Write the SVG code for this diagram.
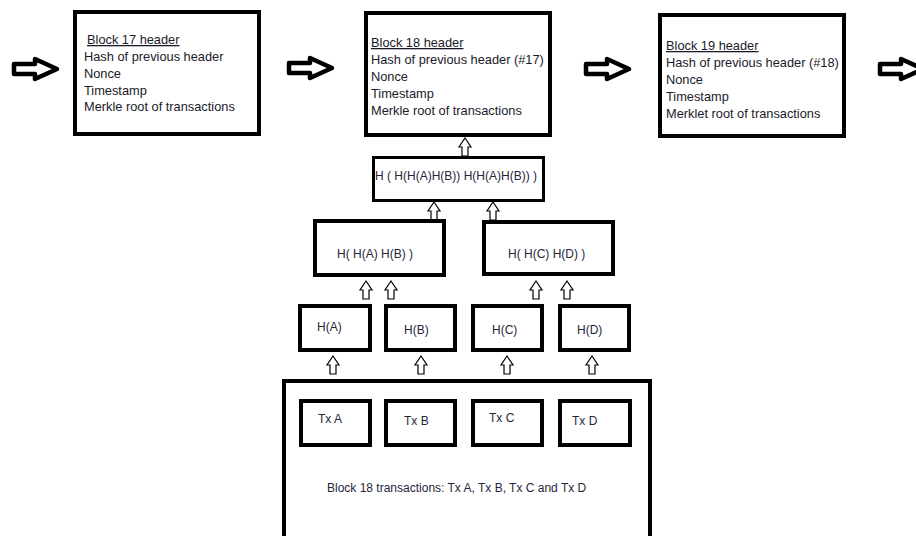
<svg xmlns="http://www.w3.org/2000/svg" width="916" height="536" viewBox="0 0 916 536">
<style>
.hdr{fill:#fff;stroke:#000;stroke-width:4}
.mk{fill:#fff;stroke:#000;stroke-width:4}
.big{fill:#fff;stroke:#000;stroke-width:4.5;stroke-linejoin:round}
.sm{fill:#fff;stroke:#000;stroke-width:1.2;stroke-linejoin:miter}
.t{font-family:"Liberation Sans",Arial,sans-serif;font-size:12.8px;fill:#1a1a2a}
.n{font-family:"Liberation Sans",Arial,sans-serif;font-size:12px;fill:#26263a}
.u{text-decoration:underline}
</style>
<defs>
<path id="bigArrow" d="M0,-5 L21,-5 L21,-10 L43,0 L21,10 L21,5 L0,5 Z"/>
<path id="upArrow" d="M0,0 L6,9 L3,9 L3,18 L-3,18 L-3,9 L-6,9 Z"/>
</defs>
<g id="connectors">
<use href="#bigArrow" class="big" x="14" y="69"/>
<use href="#bigArrow" class="big" x="289" y="68"/>
<use href="#bigArrow" class="big" x="586" y="69"/>
<use href="#bigArrow" class="big" x="880" y="69"/>
<use href="#upArrow" class="sm" x="465" y="138"/>
<use href="#upArrow" class="sm" x="434" y="202"/>
<use href="#upArrow" class="sm" x="493" y="202"/>
<use href="#upArrow" class="sm" x="366" y="281"/>
<use href="#upArrow" class="sm" x="391" y="281"/>
<use href="#upArrow" class="sm" x="536" y="281"/>
<use href="#upArrow" class="sm" x="567" y="281"/>
<use href="#upArrow" class="sm" x="333" y="356"/>
<use href="#upArrow" class="sm" x="421" y="356"/>
<use href="#upArrow" class="sm" x="507" y="356"/>
<use href="#upArrow" class="sm" x="592" y="356"/>
</g>
<g id="block17">
<rect class="hdr" x="75" y="12" width="184" height="122"/>
<text class="t u" x="87" y="44">Block 17 header</text>
<text class="t" x="84" y="61">Hash of previous header</text>
<text class="t" x="84" y="78">Nonce</text>
<text class="t" x="84" y="95">Timestamp</text>
<text class="t" x="84" y="111">Merkle root of transactions</text>
</g>
<g id="block18">
<rect class="hdr" x="366" y="13" width="184" height="122"/>
<text class="t u" x="371" y="47">Block 18 header</text>
<text class="t" x="371" y="64">Hash of previous header (#17)</text>
<text class="t" x="371" y="81">Nonce</text>
<text class="t" x="371" y="98">Timestamp</text>
<text class="t" x="371" y="115">Merkle root of transactions</text>
</g>
<g id="block19">
<rect class="hdr" x="660" y="15" width="184" height="121"/>
<text class="t u" x="666" y="50">Block 19 header</text>
<text class="t" x="666" y="67">Hash of previous header (#18)</text>
<text class="t" x="666" y="84">Nonce</text>
<text class="t" x="666" y="101">Timestamp</text>
<text class="t" x="666" y="118">Merklet root of transactions</text>
</g>
<g id="root">
<rect class="mk" x="373.5" y="157.5" width="170" height="43" style="stroke-width:3"/>
<text class="n" x="375" y="180">H ( H(H(A)H(B)) H(H(A)H(B)) )</text>
</g>
<g id="hab">
<rect class="mk" x="315" y="221" width="129" height="54"/>
<text class="n" x="337" y="258">H( H(A) H(B) )</text>
</g>
<g id="hcd">
<rect class="mk" x="484" y="222" width="129" height="52"/>
<text class="n" x="508" y="258">H( H(C) H(D) )</text>
</g>
<g id="ha">
<rect class="mk" x="300" y="306" width="70" height="44"/>
<text class="n" x="317" y="331">H(A)</text>
</g>
<g id="hb">
<rect class="mk" x="386" y="306" width="69" height="44"/>
<text class="n" x="404" y="334">H(B)</text>
</g>
<g id="hc">
<rect class="mk" x="473" y="306" width="69" height="44"/>
<text class="n" x="492" y="334">H(C)</text>
</g>
<g id="hd">
<rect class="mk" x="560" y="306" width="69" height="44"/>
<text class="n" x="577" y="334">H(D)</text>
</g>
<g id="txblock">
<rect class="mk" x="284" y="381" width="366" height="160"/>
<text class="n" x="327" y="492">Block 18 transactions: Tx A, Tx B, Tx C and Tx D</text>
</g>
<g id="txa">
<rect class="mk" x="301" y="401" width="69" height="44"/>
<text class="n" x="318" y="423">Tx A</text>
</g>
<g id="txb">
<rect class="mk" x="386" y="401" width="69" height="44"/>
<text class="n" x="404" y="425">Tx B</text>
</g>
<g id="txc">
<rect class="mk" x="473" y="401" width="69" height="44"/>
<text class="n" x="489" y="422">Tx C</text>
</g>
<g id="txd">
<rect class="mk" x="560" y="401" width="70" height="44"/>
<text class="n" x="572" y="425">Tx D</text>
</g>
</svg>
